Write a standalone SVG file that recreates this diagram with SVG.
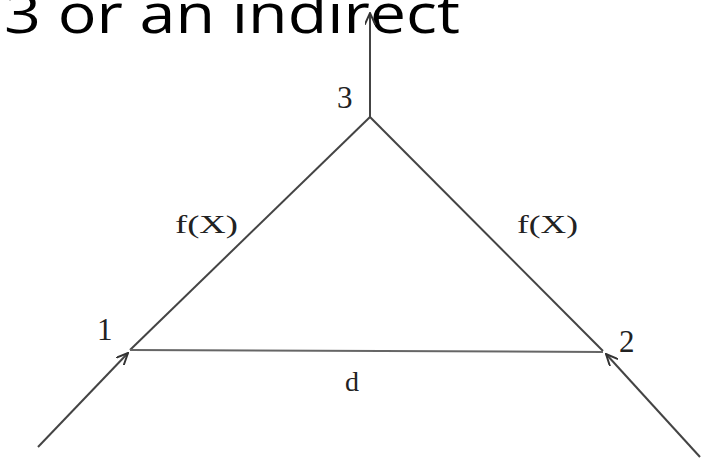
<svg xmlns="http://www.w3.org/2000/svg" width="702" height="466" viewBox="0 0 702 466">
<style>
.t{font-family:"Liberation Serif","Times New Roman",serif;fill:#222}
.e{stroke:#444;stroke-width:2;fill:none}
</style>
<defs>
<marker id="ah" viewBox="0 0 12 10" refX="11" refY="5" markerWidth="13" markerHeight="11" markerUnits="userSpaceOnUse" orient="auto">
<path d="M0,0 L11,5 L0,10" fill="none" stroke="#333" stroke-width="1.8"/>
</marker>
</defs>
<rect width="702" height="466" fill="#fff"/>
<text x="4" y="33" font-family="'Open Sans','Liberation Sans',sans-serif" font-size="54" fill="#000" textLength="456" lengthAdjust="spacingAndGlyphs">3 or an indirect</text>
<g id="connectors">
<line class="e" x1="370" y1="117" x2="370" y2="13" marker-end="url(#ah)"/>
<line class="e" x1="370" y1="117" x2="130" y2="350"/>
<line class="e" x1="370" y1="117" x2="603" y2="351"/>
<line x1="130" y1="350" x2="603" y2="352" stroke="#666" stroke-width="2"/>
<line class="e" x1="38" y1="447" x2="128" y2="353" marker-end="url(#ah)"/>
<line class="e" x1="700" y1="457" x2="606" y2="354" marker-end="url(#ah)"/>
</g>
<g id="n3"><text class="t" x="337" y="108" font-size="31">3</text></g>
<g id="n1"><text class="t" x="97" y="340" font-size="31">1</text></g>
<g id="n2"><text class="t" x="619" y="352" font-size="31">2</text></g>
<g id="lf1"><text class="t" x="175" y="233" font-size="26" textLength="63" lengthAdjust="spacingAndGlyphs">f(X)</text></g>
<g id="lf2"><text class="t" x="517" y="233" font-size="26" textLength="61" lengthAdjust="spacingAndGlyphs">f(X)</text></g>
<g id="ld"><text class="t" x="345" y="391" font-size="28">d</text></g>
</svg>
